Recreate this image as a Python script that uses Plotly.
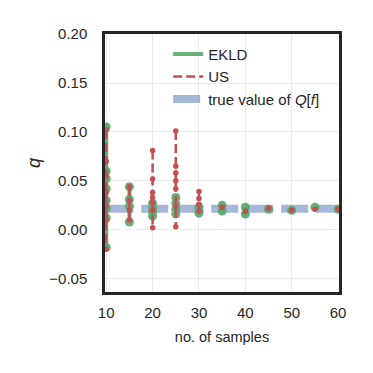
import plotly.graph_objects as go

# sample sizes and the estimates of each repetition
n_samples = [10, 15, 20, 25, 30, 35, 40, 45, 50, 55, 60]
ekld_runs = [
    [0.105, 0.060, 0.052, 0.042, 0.030, 0.022, 0.012, -0.018],
    [0.044, 0.031, 0.024, 0.008],
    [0.027, 0.022, 0.018, 0.014],
    [0.033, 0.027, 0.021, 0.016],
    [0.023, 0.019, 0.017],
    [0.025, 0.019],
    [0.023, 0.016],
    [0.021],
    [0.020],
    [0.023],
    [0.021],
]
us_runs = [
    [0.102, 0.070, 0.055, 0.038, 0.025, 0.010, -0.020],
    [0.044, 0.030, 0.020, 0.010],
    [0.081, 0.052, 0.038, 0.033, 0.028, 0.020, 0.002],
    [0.101, 0.065, 0.058, 0.050, 0.042, 0.024, 0.003],
    [0.039, 0.032, 0.026, 0.019],
    [0.023],
    [0.019],
    [0.022],
    [0.020],
    [0.021],
    [0.021],
]
true_value = 0.0214

green = "#55A868"
red = "#C44E52"
blue = "rgba(76,114,176,0.5)"
font = "Arial, Liberation Sans, sans-serif"


def stack(xs, runs):
    # vertical segment per sample size, split with None
    x, y = [], []
    for n, vals in zip(xs, runs):
        x += [n] * len(vals) + [None]
        y += list(vals) + [None]
    return x, y


ex, ey = stack(n_samples, ekld_runs)
ux, uy = stack(n_samples, us_runs)

fig = go.Figure()
fig.add_trace(go.Scatter(x=[n_samples[0], n_samples[-1]], y=[true_value, true_value],
                         mode="lines", line=dict(color=blue, width=8, dash="27px,8px"),
                         name="true value of <i>Q</i>[<i>f</i>]", legendrank=3))
fig.add_trace(go.Scatter(x=ex, y=ey, mode="lines", line=dict(color=green, width=4),
                         name="EKLD", legendrank=1, opacity=0.9))
fig.add_trace(go.Scatter(x=ex, y=ey, mode="markers", marker=dict(color=green, size=9),
                         showlegend=False, opacity=0.9))
fig.add_trace(go.Scatter(x=ux, y=uy, mode="lines", line=dict(color=red, width=2.5, dash="9px,4px"),
                         name="US", legendrank=2))
fig.add_trace(go.Scatter(x=ux, y=uy, mode="markers", marker=dict(color=red, size=5.5),
                         showlegend=False))

# the page body adds an 8px offset, so the figure is 8px smaller
fig.update_layout(
    width=365, height=365,
    margin=dict(l=97, r=34, t=26, b=81),
    paper_bgcolor="white", plot_bgcolor="white",
    font=dict(family=font, size=15, color="#262626"),
    legend=dict(x=0.27, y=0.985, xanchor="left", yanchor="top",
                bgcolor="rgba(0,0,0,0)", font=dict(size=15), tracegroupgap=0),
)
fig.update_xaxes(range=[9.74, 60.19], tickvals=[10, 20, 30, 40, 50, 60],
                 showgrid=True, gridcolor="#EAEAEA", gridwidth=1, zeroline=False,
                 showline=True, mirror=True, linecolor="#262626", linewidth=2.5,
                 ticks="", ticklabelstandoff=5, automargin=False,
                 title=dict(text="no. of samples", standoff=13, font=dict(size=14.5)))
fig.update_yaxes(range=[-0.0636, 0.2001], tickvals=[-0.05, 0, 0.05, 0.10, 0.15, 0.20],
                 tickformat=".2f",
                 showgrid=True, gridcolor="#EAEAEA", gridwidth=1, zeroline=False,
                 showline=True, mirror=True, linecolor="#262626", linewidth=2.5,
                 ticks="", ticklabelstandoff=12, automargin=False,
                 title=dict(text="<i>q</i>", standoff=4))

fig.write_html("out.html")
